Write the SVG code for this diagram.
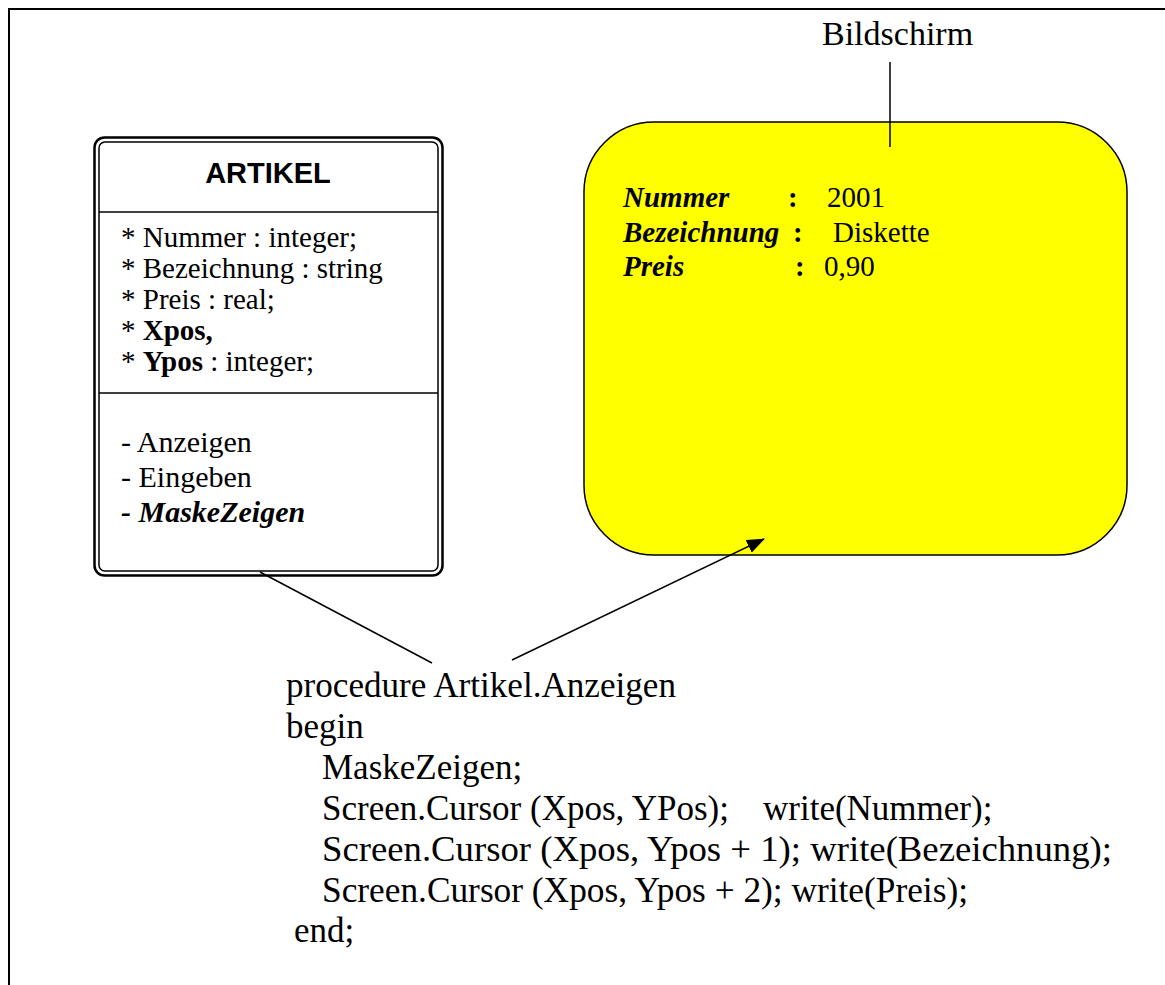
<svg xmlns="http://www.w3.org/2000/svg" width="1165" height="985" viewBox="0 0 1165 985">
<style>
.serif{font-family:"Liberation Serif","Times New Roman",serif;fill:#000}
.sans{font-family:"Liberation Sans",Arial,sans-serif;fill:#000}
.attr{font-size:29px}
.meth{font-size:30px}
.code{font-size:35px}
.scr{font-size:29px}
.bi{font-weight:bold;font-style:italic}
.b{font-weight:bold}
.ln{stroke:#000;stroke-width:1.5;fill:none}
</style>
<defs>
<marker id="arrow" viewBox="0 0 18 14" refX="17" refY="7" markerWidth="18" markerHeight="14" markerUnits="userSpaceOnUse" orient="auto">
<path d="M0,0 L18,7 L0,14 Z" fill="#000"/>
</marker>
</defs>
<rect width="1165" height="985" fill="#fff"/>
<g id="frame">
<path d="M9,985 L9,9 L1165,9" stroke="#000" stroke-width="2" fill="none"/>
</g>
<g id="artikel">
<rect x="94.5" y="137.5" width="348" height="438" rx="10" ry="10" fill="#fff" stroke="#000" stroke-width="2.5"/>
<rect x="99" y="142" width="339" height="429" rx="6" ry="6" fill="none" stroke="#000" stroke-width="1.5"/>
<line x1="99" y1="212" x2="438" y2="212" class="ln"/>
<line x1="99" y1="393" x2="438" y2="393" class="ln"/>
<text x="268" y="183" text-anchor="middle" class="sans b" font-size="29">ARTIKEL</text>
<text x="121" y="247" class="serif attr">* Nummer : integer;</text>
<text x="121" y="278" class="serif attr">* Bezeichnung : string</text>
<text x="121" y="309" class="serif attr">* Preis : real;</text>
<text x="121" y="340" class="serif attr">* <tspan class="b">Xpos,</tspan></text>
<text x="121" y="371" class="serif attr">* <tspan class="b">Ypos</tspan> : integer;</text>
<text x="121" y="452" class="serif meth">- Anzeigen</text>
<text x="121" y="487" class="serif meth">- Eingeben</text>
<text x="121" y="522" class="serif meth bi">- MaskeZeigen</text>
</g>
<g id="bildschirm">
<rect x="584" y="122" width="543" height="433" rx="70" ry="70" fill="#ffff00" stroke="#000" stroke-width="1.5"/>
<text x="623" y="207" class="serif scr bi">Nummer</text>
<text x="788" y="207" class="serif scr b">:</text>
<text x="827" y="207" class="serif scr">2001</text>
<text x="623" y="242" class="serif scr bi">Bezeichnung</text>
<text x="793" y="242" class="serif scr b">:</text>
<text x="833" y="242" class="serif scr">Diskette</text>
<text x="623" y="276" class="serif scr bi">Preis</text>
<text x="795" y="276" class="serif scr b">:</text>
<text x="824" y="276" class="serif scr">0,90</text>
</g>
<g id="label-bildschirm">
<text x="822" y="45" class="serif" font-size="34">Bildschirm</text>
</g>
<g id="code">
<text x="286" y="697" class="serif code" textLength="390" lengthAdjust="spacingAndGlyphs">procedure Artikel.Anzeigen</text>
<text x="286" y="738" class="serif code">begin</text>
<text x="322" y="779" class="serif code">MaskeZeigen;</text>
<text x="322" y="820" class="serif code">Screen.Cursor (Xpos, YPos);</text>
<text x="763" y="820" class="serif code">write(Nummer);</text>
<text x="322" y="861" class="serif code" textLength="790" lengthAdjust="spacingAndGlyphs">Screen.Cursor (Xpos, Ypos + 1); write(Bezeichnung);</text>
<text x="322" y="902" class="serif code" textLength="646" lengthAdjust="spacingAndGlyphs">Screen.Cursor (Xpos, Ypos + 2); write(Preis);</text>
<text x="294" y="942" class="serif code">end;</text>
</g>
<g id="connectors">
<line x1="890" y1="62" x2="890" y2="147" class="ln"/>
<line x1="260" y1="572" x2="432" y2="663" class="ln"/>
<line x1="512" y1="660" x2="764" y2="539" class="ln" marker-end="url(#arrow)"/>
</g>
</svg>
